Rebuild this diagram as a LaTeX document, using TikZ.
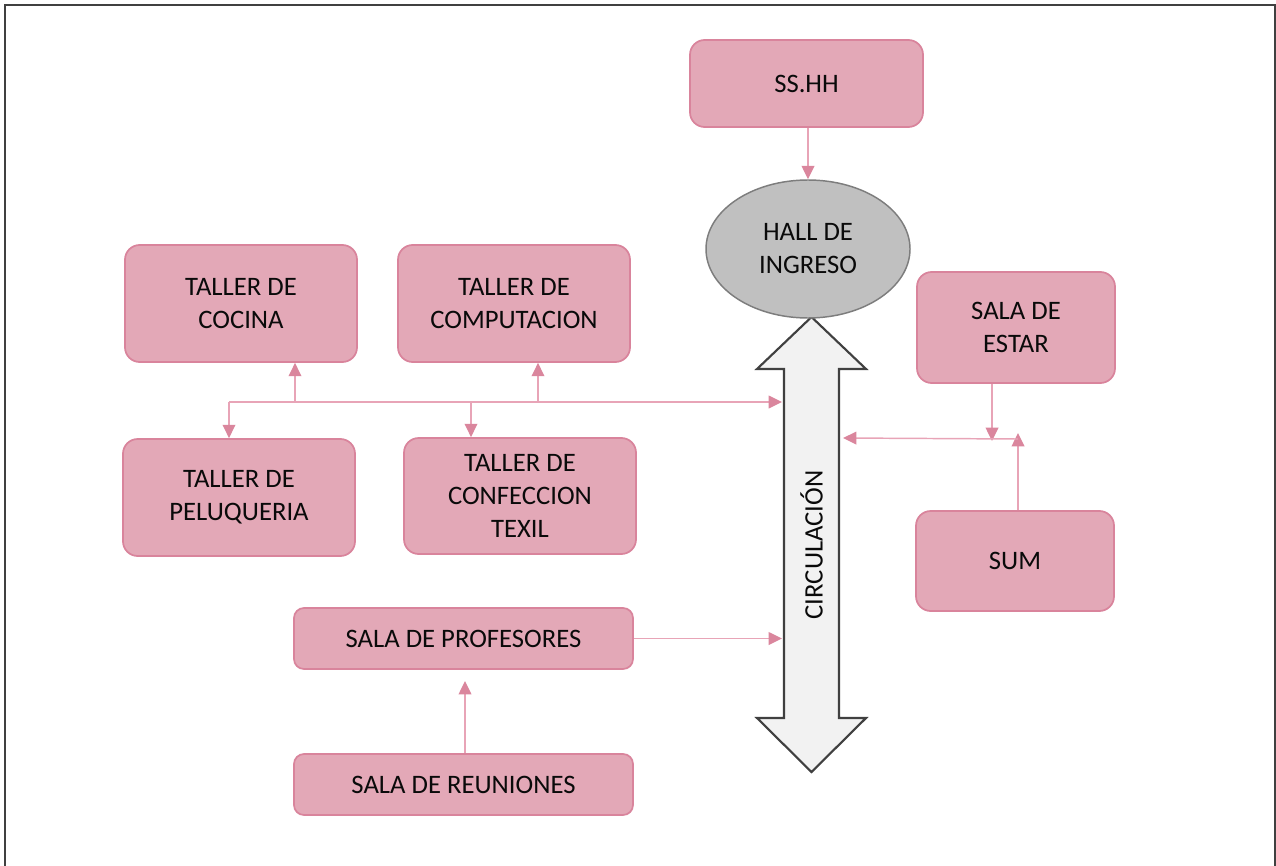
\documentclass[tikz,border=0pt]{standalone}
\usepackage{fontspec}
\setmainfont{Carlito}
\usetikzlibrary{arrows.meta,shapes.geometric}
\definecolor{boxfill}{RGB}{227,168,183}
\definecolor{boxline}{RGB}{217,132,156}
\definecolor{connline}{RGB}{232,164,183}
\definecolor{conntip}{RGB}{218,134,157}
\definecolor{hallfill}{RGB}{192,192,192}
\definecolor{hallline}{RGB}{125,125,125}
\definecolor{circfill}{RGB}{242,242,242}
\definecolor{circline}{RGB}{64,64,64}
\definecolor{framecol}{RGB}{64,64,64}
\definecolor{txt}{RGB}{10,10,10}
\begin{document}
\begin{tikzpicture}[x=0.75pt,y=-0.75pt,
  lbl/.style={align=center, font=\fontsize{20}{24.75}\selectfont, text=txt},
  room/.style={lbl, draw=boxline, fill=boxfill, line width=1.3pt, rounded corners=11pt, inner sep=0pt},
  flat/.style={room, rounded corners=7.5pt},
  hallsty/.style={lbl, ellipse, draw=hallline, fill=hallfill, line width=1.1pt, inner sep=0pt},
  conn/.style={draw=connline, line width=1.1pt, -{Triangle[length=10pt,width=9.5pt,color=conntip]}},
  plain/.style={draw=connline, line width=1.1pt}
]
\useasboundingbox (0,0) rectangle (1276,866);
% frame
\draw[framecol, line width=2pt] (5,870) -- (5,5) -- (1275,5) -- (1275,870);

% circulation double arrow
\draw[circline, fill=circfill, line width=1.6pt, line join=miter]
  (811.5,317) -- (866,369) -- (839,369) -- (839,718) -- (866,718) -- (811.5,772)
  -- (757,718) -- (784,718) -- (784,369) -- (757,369) -- cycle;
\node[lbl, rotate=90] (circ) at (811.5,545) {CIRCULACIÓN};

% nodes
\node[room, minimum width=174.75pt, minimum height=65.25pt] (ss) at (806.5,83.5) {SS.HH};
\node[hallsty, minimum width=153pt, minimum height=103.5pt] (hall) at (808,249) {HALL DE\\INGRESO};
\node[room, minimum width=174pt, minimum height=87.75pt] (cocina) at (241,303.5) {TALLER DE\\COCINA};
\node[room, minimum width=174pt, minimum height=87.75pt] (comp) at (514,303.5) {TALLER DE\\COMPUTACION};
\node[room, minimum width=174pt, minimum height=87.75pt] (pelu) at (239,497.5) {TALLER DE\\PELUQUERIA};
\node[room, minimum width=174pt, minimum height=87pt] (conf) at (520,496) {TALLER DE\\CONFECCION\\TEXIL};
\node[room, minimum width=148.5pt, minimum height=83.25pt] (estar) at (1016,327.5) {SALA DE\\ESTAR};
\node[room, minimum width=148.5pt, minimum height=75pt] (sum) at (1015,561) {SUM};
\node[flat, minimum width=254.25pt, minimum height=45.75pt] (prof) at (463.5,638.5) {SALA DE PROFESORES};
\node[flat, minimum width=254.25pt, minimum height=45.75pt] (reun) at (463.5,784.5) {SALA DE REUNIONES};

% coordinates
\coordinate (hubL) at (229,402);
\coordinate (hubR) at (782,402);
\coordinate (hc1) at (295,402);
\coordinate (hc2) at (538,402);
\coordinate (hc3) at (471,402);
\coordinate (J) at (1018,439);
\coordinate (Jt) at (1018,433);
\coordinate (e1) at (992,441);
\coordinate (cR) at (843,438);
\coordinate (pt) at (782,638.5);
\coordinate (rx) at (465,681);

% connectors
\draw[conn] (ss.south -| hall.north) -- (hall.north);
\draw[conn] (hubL) -- (hubR);
\draw[conn] (hubL) -- (hubL |- pelu.north);
\draw[conn] (hc1) -- (hc1 |- cocina.south);
\draw[conn] (hc2) -- (hc2 |- comp.south);
\draw[conn] (hc3) -- (hc3 |- conf.north);
\draw[conn] (estar.south -| e1) -- (e1);
\draw[conn] (sum.north -| Jt) -- (Jt);
\draw[conn] (J) -- (cR);
\draw[conn] (prof.east) -- (pt);
\draw[conn] (reun.north -| rx) -- (rx);
\end{tikzpicture}
\end{document}
